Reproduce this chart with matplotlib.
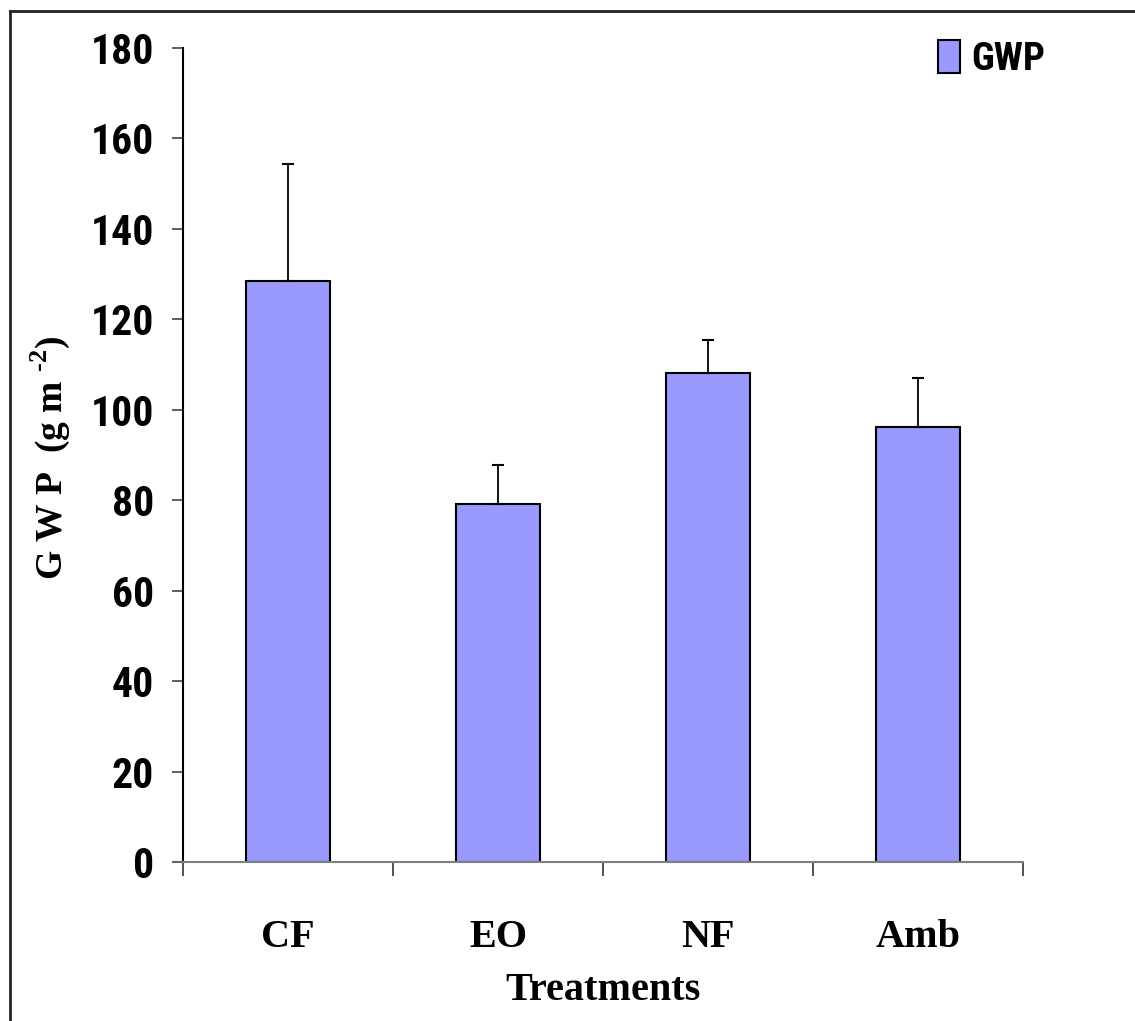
import matplotlib
matplotlib.use("Agg")
from matplotlib import pyplot as plt
from matplotlib.lines import Line2D
import numpy as np

treatments = ["CF", "EO", "NF", "Amb"]
gwp = [128.5, 79.2, 108.1, 96.2]
gwp_err = [25.9, 8.6, 7.3, 10.8]
yticks = [0, 20, 40, 60, 80, 100, 120, 140, 160, 180]

bar_color = "#9999FF"
narrow = ["Roboto Condensed", "Liberation Sans", "DejaVu Sans"]
serif = ["Liberation Serif", "DejaVu Serif"]

plt.rcParams["mathtext.fontset"] = "custom"
plt.rcParams["mathtext.rm"] = "Liberation Serif:bold"
plt.rcParams["mathtext.bf"] = "Liberation Serif:bold"

fig = plt.figure(figsize=(11.35, 10.21), dpi=100)
ax = fig.add_axes([183 / 1135, 1 - 862 / 1021, 840 / 1135, 814 / 1021])

x = np.arange(len(treatments))
ax.bar(x, gwp, width=0.4, color=bar_color, edgecolor="black", linewidth=1.5,
       label="GWP", zorder=2)
ax.errorbar(x, gwp, yerr=[np.zeros(len(gwp)), gwp_err], fmt="none",
            ecolor="black", elinewidth=1.3, capsize=4.5, capthick=1.5, zorder=3)

ax.set_xlim(-0.5, len(treatments) - 0.5)
ax.set_ylim(0, 180)
ax.set_yticks(yticks)
ax.set_yticklabels([str(v) for v in yticks], family=narrow, fontweight="bold",
                   fontsize=30)

# category ticks sit between bars, labels at bar centres
ax.set_xticks(np.arange(len(treatments) + 1) - 0.5)
ax.set_xticklabels([])
ax.set_xticks(x, minor=True)
ax.set_xticklabels(treatments, minor=True, family=serif, fontweight="bold",
                   fontsize=29)
ax.tick_params(axis="x", which="minor", length=0, pad=41)
ax.tick_params(axis="x", which="major", direction="out", length=10,
               width=1.2, color="#333333")
ax.tick_params(axis="y", direction="out", length=8, width=1.2,
               color="#444444", pad=13)

for side in ("top", "right"):
    ax.spines[side].set_visible(False)
ax.spines["left"].set_color("black")
ax.spines["left"].set_linewidth(1.5)
ax.spines["bottom"].set_color("#808080")
ax.spines["bottom"].set_linewidth(1.5)

fig.text(603 / 1135, 1 - 990 / 1021, "Treatments", family=serif,
         fontweight="bold", fontsize=29, ha="center", va="center")
fig.text(50 / 1135, 1 - 458 / 1021, "G W P  (g m $^{\\text{-2}}$)",
         family=serif, fontweight="bold", fontsize=27, rotation=90,
         ha="center", va="center")

leg = ax.legend(loc="upper right", bbox_to_anchor=(1061 / 1135, 1 - 24 / 1021),
                bbox_transform=fig.transFigure, frameon=False,
                prop={"family": narrow, "weight": "bold", "size": 28},
                handlelength=0.55, handleheight=0.95, handletextpad=0.3,
                borderaxespad=0)

# outer frame along the top and left edges
fig.add_artist(Line2D([10 / 1135, 10 / 1135], [0, 1 - 11 / 1021],
                      transform=fig.transFigure, color="#222222", linewidth=2))
fig.add_artist(Line2D([10 / 1135, 1], [1 - 11 / 1021, 1 - 11 / 1021],
                      transform=fig.transFigure, color="#222222", linewidth=2))

fig.savefig("out.png", dpi=100)
